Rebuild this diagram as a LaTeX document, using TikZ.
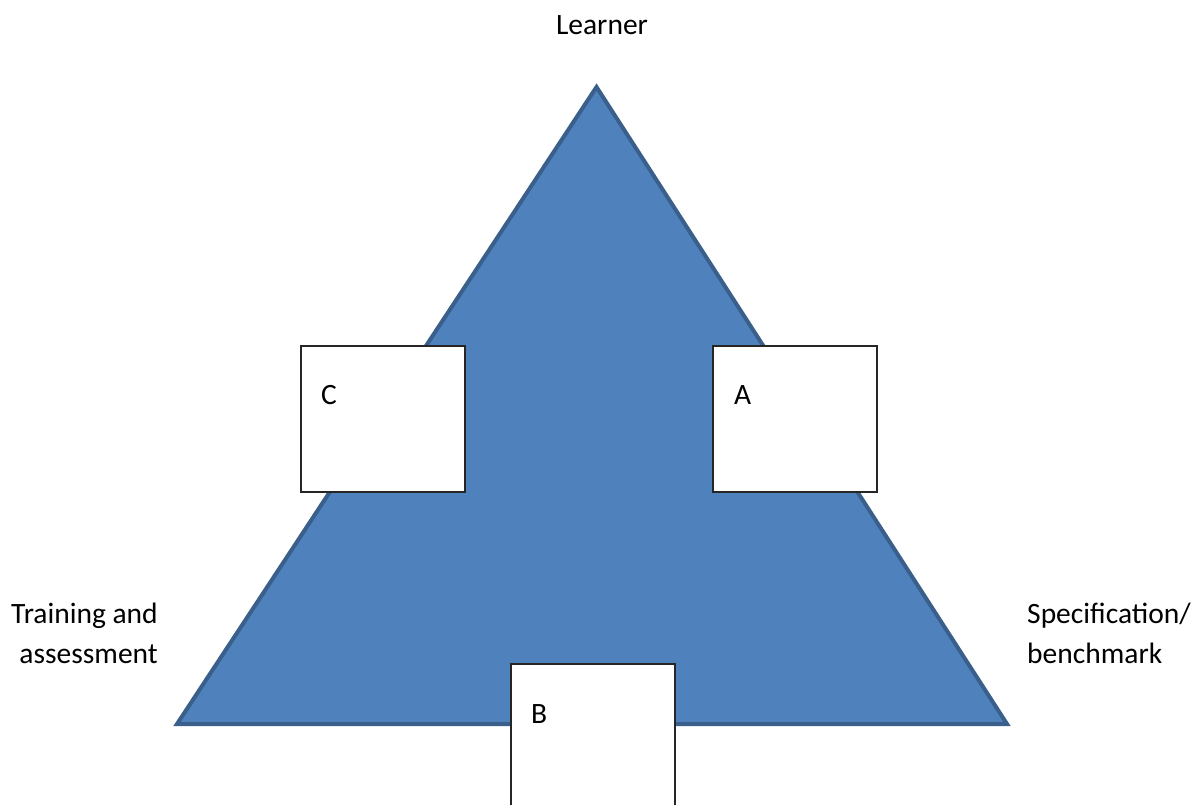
\documentclass[tikz,border=0pt]{standalone}
\usepackage{fontspec}
\setmainfont{Carlito}
\definecolor{trifill}{HTML}{4F81BD}
\definecolor{triline}{HTML}{3A5F8B}
\begin{document}
\begin{tikzpicture}[x=1pt,y=-1pt,
  lbl/.style={font=\fontsize{29.5}{40}\selectfont, inner sep=0pt, anchor=base},
  whitebox/.style={draw=black!85, fill=white, line width=1.4pt}]
\useasboundingbox (0,0) rectangle (1192,805);
\clip (0,0) rectangle (1192,805);
\coordinate (top) at (596.5,87);
\coordinate (bl) at (177,724);
\coordinate (br) at (1007,724);
\fill[trifill, draw=triline, line width=4pt, line join=miter] (top) -- (br) -- (bl) -- cycle;
\draw[whitebox] (301,346) rectangle (465,492);
\draw[whitebox] (713,346) rectangle (877,492);
\draw[whitebox] (511,664) rectangle (675,830);
\node[lbl] (learner) at (602,35) {Learner};
\node[lbl, anchor=base west] (c) at (321,404) {C};
\node[lbl, anchor=base west] (a) at (734,404) {A};
\node[lbl, anchor=base west] (b) at (531,723) {B};
\node[lbl, anchor=base east, align=right] (train) at (158,663) {Training and\\assessment};
\node[lbl, anchor=base west, align=left] (spec) at (1027,663) {Specification/\\benchmark};
\end{tikzpicture}
\end{document}
